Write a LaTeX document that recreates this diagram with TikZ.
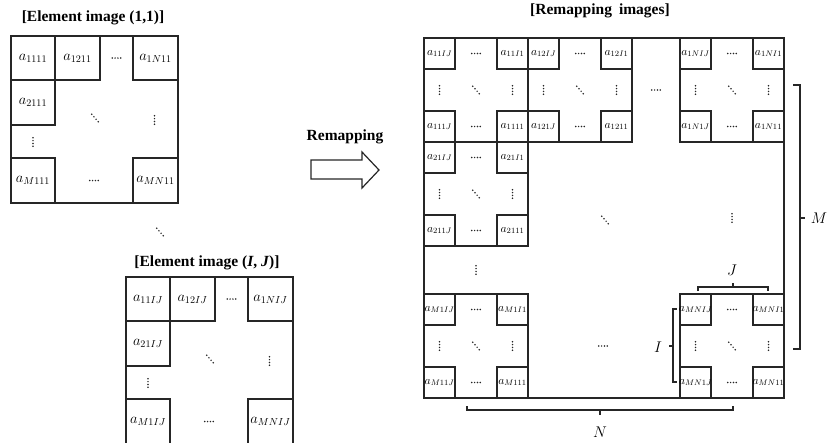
\RequirePackage{fix-cm}
\documentclass[tikz,border=0pt]{standalone}
\usepackage{fontspec}
\newfontfamily\titlefont{Liberation Serif}
\usetikzlibrary{calc}

\tikzset{
  gridline/.style={line width=1.2pt, draw=black!85},
  bigcell/.style={font=\fontsize{14.5}{16}\selectfont, inner sep=0pt},
  smallcell/.style={font=\fontsize{11.5}{13}\selectfont, inner sep=0pt},
  heading/.style={font=\titlefont\fontsize{15.5}{17}\selectfont\bfseries, inner sep=0pt},
  braceline/.style={line width=1.2pt, draw=black!85},
  bracelabel/.style={font=\fontsize{15.5}{17}\selectfont, inner sep=0pt},
  hdots/.pic={\foreach \k in {-1.5,-0.5,0.5,1.5} \fill[black!85] (\k*2.8,0) circle (0.85pt);},
  vdots/.pic={\foreach \k in {-1.5,-0.5,0.5,1.5} \fill[black!85] (0,\k*2.8) circle (0.85pt);},
  ddots/.pic={\foreach \k in {-1.5,-0.5,0.5,1.5} \fill[black!85] (\k*2.2,\k*2.5) circle (0.85pt);},
}

% One element image: #1 name, #2/#3 top-left corner, #4 trailing index pair
\newcommand{\elemimage}[4]{%
  \begin{scope}[shift={(#2,#3)}]
    \draw[gridline] (0,0) rectangle (167,167);
    \draw[gridline] (0,0) rectangle (44,44);
    \draw[gridline] (44,0) rectangle (89,44);
    \draw[gridline] (122,0) rectangle (167,44);
    \draw[gridline] (0,44) rectangle (44,89);
    \draw[gridline] (0,122) rectangle (44,167);
    \draw[gridline] (122,122) rectangle (167,167);
    \node[bigcell] (#1-11) at (22,22) {$a_{11#4}$};
    \node[bigcell] (#1-12) at (66.5,22) {$a_{12#4}$};
    \node[bigcell] (#1-1N) at (144.5,22) {$a_{1N#4}$};
    \node[bigcell] (#1-21) at (22,66.5) {$a_{21#4}$};
    \node[bigcell] (#1-M1) at (22,144.5) {$a_{M1#4}$};
    \node[bigcell] (#1-MN) at (144.5,144.5) {$a_{MN#4}$};
    \pic at (105.5,22) {hdots};
    \pic at (83,144.5) {hdots};
    \pic at (84,82) {ddots};
    \pic at (143.5,84) {vdots};
    \pic at (22,106) {vdots};
  \end{scope}}

% One remapped block: #1 name, #2/#3 top-left corner, #4 leading index pair
\newcommand{\remapblock}[4]{%
  \begin{scope}[shift={(#2,#3)}]
    \draw[gridline] (0,0) rectangle (104,104);
    \draw[gridline] (0,0) rectangle (31,31);
    \draw[gridline] (73,0) rectangle (104,31);
    \draw[gridline] (0,73) rectangle (31,104);
    \draw[gridline] (73,73) rectangle (104,104);
    \node[smallcell] (#1-tl) at (15.5,15.5) {$a_{#4IJ}$};
    \node[smallcell] (#1-tr) at (88.5,15.5) {$a_{#4I1}$};
    \node[smallcell] (#1-bl) at (15.5,88.5) {$a_{#41J}$};
    \node[smallcell] (#1-br) at (88.5,88.5) {$a_{#411}$};
    \pic at (52,15.5) {hdots};
    \pic at (52,88.5) {hdots};
    \pic at (15.5,52) {vdots};
    \pic at (88.5,52) {vdots};
    \pic at (52,52) {ddots};
  \end{scope}}

\begin{document}
\begin{tikzpicture}[x=1pt,y=-1pt]
  \useasboundingbox (0,0) rectangle (827,442);

  % element images
  \node[heading] (title11) at (93,18) {[Element image (1,1)]};
  \elemimage{ea}{11}{36}{11}
  \pic at (160,232) {ddots};
  \node[heading] (titleIJ) at (207,263) {[Element image (\textit{I}, \textit{J})]};
  \elemimage{eb}{126}{277}{IJ}

  % remapping arrow
  \node[heading] (remap) at (345,137) {Remapping};
  \draw[line width=1.2pt, draw=black!85, line join=miter]
    (311,160) -- (362,160) -- (362,152) -- (379,170) -- (362,188)
    -- (362,179) -- (311,179) -- cycle;

  % remapped image
  \node[heading] (remaptitle) at (600,11) {[Remapping\hspace{7pt}images]};
  \draw[gridline] (424,38) rectangle (784,398);
  \remapblock{b11}{424}{38}{11}
  \remapblock{b12}{528}{38}{12}
  \remapblock{b1N}{680}{38}{1N}
  \remapblock{b21}{424}{142}{21}
  \remapblock{bM1}{424}{294}{M1}
  \remapblock{bMN}{680}{294}{MN}
  \pic at (656,90) {hdots};
  \pic at (605,220) {ddots};
  \pic at (732,218) {vdots};
  \pic at (476,270) {vdots};
  \pic at (603,346) {hdots};

  % index brackets
  \draw[braceline] (793,85) -- (800,85) -- (800,349) -- (793,349);
  \draw[braceline] (800,218) -- (805,218);
  \node[bracelabel] (labM) at (819,218) {$M$};

  \draw[braceline] (698,291) -- (698,287) -- (768,287) -- (768,291);
  \draw[braceline] (733,287) -- (733,283);
  \node[bracelabel] (labJ) at (732,270) {$J$};

  \draw[braceline] (677,309) -- (673,309) -- (673,382) -- (677,382);
  \draw[braceline] (673,346) -- (669,346);
  \node[bracelabel] (labI) at (658,347) {$I$};

  \draw[braceline] (467,406) -- (467,410) -- (733,410) -- (733,406);
  \draw[braceline] (600,410) -- (600,415);
  \node[bracelabel] (labN) at (600,432) {$N$};
\end{tikzpicture}
\end{document}
